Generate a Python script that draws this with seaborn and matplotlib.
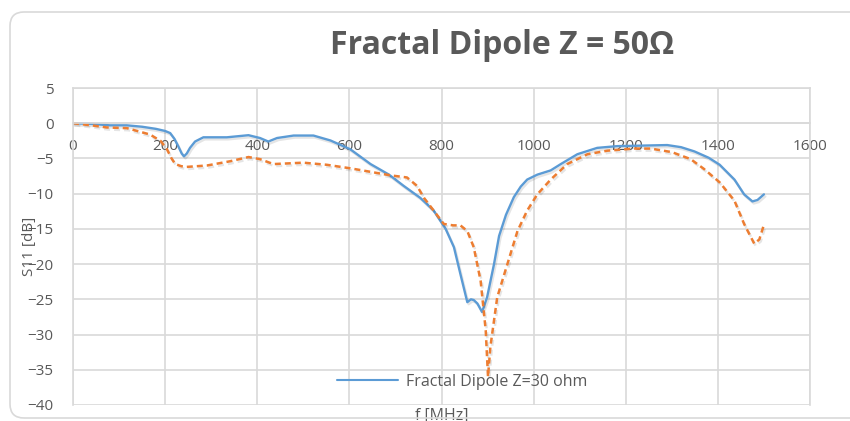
import seaborn as sns
import matplotlib.pyplot as plt
import matplotlib.patheffects as pe
from matplotlib.patches import FancyBboxPatch
from matplotlib.transforms import IdentityTransform
import pandas as pd

# Z=30 ohm dipole (solid blue)
f_30 = [0, 40, 80, 117, 150, 180, 200, 211, 220, 228, 236, 241, 247, 254, 265, 283,
        334, 381, 406, 424, 443, 479, 522, 559, 602, 646, 686, 718, 754, 783, 809,
        827, 841, 856, 864, 870, 878, 888, 899, 914, 925, 940, 957, 972, 986, 1008,
        1037, 1059, 1095, 1138, 1182, 1220, 1290, 1320, 1349, 1380, 1404, 1436, 1457,
        1475, 1486, 1500]
s11_30 = [0, -0.1, -0.3, -0.3, -0.5, -0.8, -1.1, -1.4, -2.2, -3.2, -4.3, -4.7, -4.3,
          -3.5, -2.6, -2.0, -2.0, -1.7, -2.1, -2.6, -2.1, -1.75, -1.75, -2.45, -3.7,
          -5.8, -7.3, -8.9, -10.6, -12.4, -15.0, -17.6, -21.4, -25.4, -25.0, -25.1,
          -25.6, -26.8, -24.7, -20.0, -16.0, -13.0, -10.5, -9.0, -8.0, -7.3, -6.7,
          -5.8, -4.4, -3.5, -3.25, -3.2, -3.1, -3.4, -4.0, -4.9, -5.9, -8.0, -10.1,
          -11.1, -10.9, -10.1]

# Z=50 ohm dipole (dashed orange)
f_50 = [0, 40, 73, 117, 167, 190, 204, 214, 222, 235, 247, 291, 341, 381, 406, 435,
        500, 551, 602, 646, 689, 725, 747, 762, 783, 805, 825, 841, 856, 870, 885,
        896, 901, 906, 921, 943, 965, 986, 1008, 1037, 1073, 1117, 1160, 1218, 1254,
        1300, 1341, 1370, 1404, 1436, 1457, 1479, 1490, 1500]
s11_50 = [0, -0.3, -0.6, -0.7, -1.6, -2.5, -3.7, -5.0, -5.8, -6.1, -6.2, -6.0, -5.4,
          -4.8, -5.1, -5.8, -5.6, -5.9, -6.4, -6.9, -7.4, -7.7, -8.9, -10.6, -12.4,
          -14.3, -14.5, -14.5, -15.3, -17.6, -22.4, -29.4, -36.0, -31.8, -24.7, -20.0,
          -15.3, -12.4, -10.1, -8.0, -5.8, -4.4, -3.9, -3.6, -3.6, -4.1, -5.1, -6.5,
          -8.4, -11.0, -14.3, -17.1, -16.5, -14.4]

x_ticks = list(range(0, 1601, 200))
y_ticks = list(range(-40, 6, 5))

df30 = pd.DataFrame({'f': f_30, 's11': s11_30})
df50 = pd.DataFrame({'f': f_50, 's11': s11_50})

sns.set_style('white')
plt.rcParams['font.family'] = ['Open Sans', 'DejaVu Sans']
grey = '#595959'
grid = '#D9D9D9'

fig = plt.figure(figsize=(8.5, 4.21), dpi=100)
ax = fig.add_axes([73 / 850, 16 / 421, 737 / 850, 317 / 421])

shadow = [pe.SimpleLineShadow(offset=(1, -1.5), alpha=0.1, shadow_color='k'), pe.Normal()]
sns.lineplot(data=df30, x='f', y='s11', ax=ax, color='#5B9BD5', lw=1.7,
             sort=False, estimator=None, label='Fractal Dipole Z=30 ohm',
             path_effects=shadow)
sns.lineplot(data=df50, x='f', y='s11', ax=ax, color='#ED7D31', lw=1.8,
             sort=False, estimator=None, label='_nolegend_',
             linestyle=(0, (2.4, 1.6)), path_effects=shadow)

ax.set_xlim(0, 1600)
ax.set_ylim(-40, 5)
ax.set_xticks(x_ticks)
ax.set_yticks(y_ticks)
ax.grid(True, color=grid, lw=1.2)
ax.set_axisbelow(True)
for s in ax.spines.values():
    s.set_color(grid)
    s.set_linewidth(1.2)
ax.spines['bottom'].set_position(('data', 0))
ax.tick_params(axis='x', length=0, pad=11, labelsize=11, colors=grey)
ax.tick_params(axis='y', length=0, pad=14, labelsize=11, colors=grey)

ax.set_xlabel('f [MHz]', fontsize=11.5, color=grey)
ax.set_ylabel('S11 [dB]', fontsize=11, color=grey)
ax.xaxis.set_label_coords(0.5, -0.01)
ax.yaxis.set_label_coords(-0.049, 0.5)

leg = ax.legend(loc='center', bbox_to_anchor=(0.528, 0.073), frameon=False,
                fontsize=11.5, handlelength=3.8, handletextpad=0.5, labelcolor=grey)
for line in leg.get_lines():
    line.set_linewidth(1.5)
    line.set_path_effects([])

fig.text(502 / 850, 1 - 45 / 421, 'Fractal Dipole Z = 50Ω', ha='center', va='center',
         fontsize=23, fontweight='bold', color=grey)

border = FancyBboxPatch((10, 3), 860, 406, boxstyle='round,pad=0,rounding_size=14',
                        transform=IdentityTransform(), fill=False, ec=grid, lw=1.2)
fig.patches.append(border)

fig.savefig('out.png', dpi=100)
